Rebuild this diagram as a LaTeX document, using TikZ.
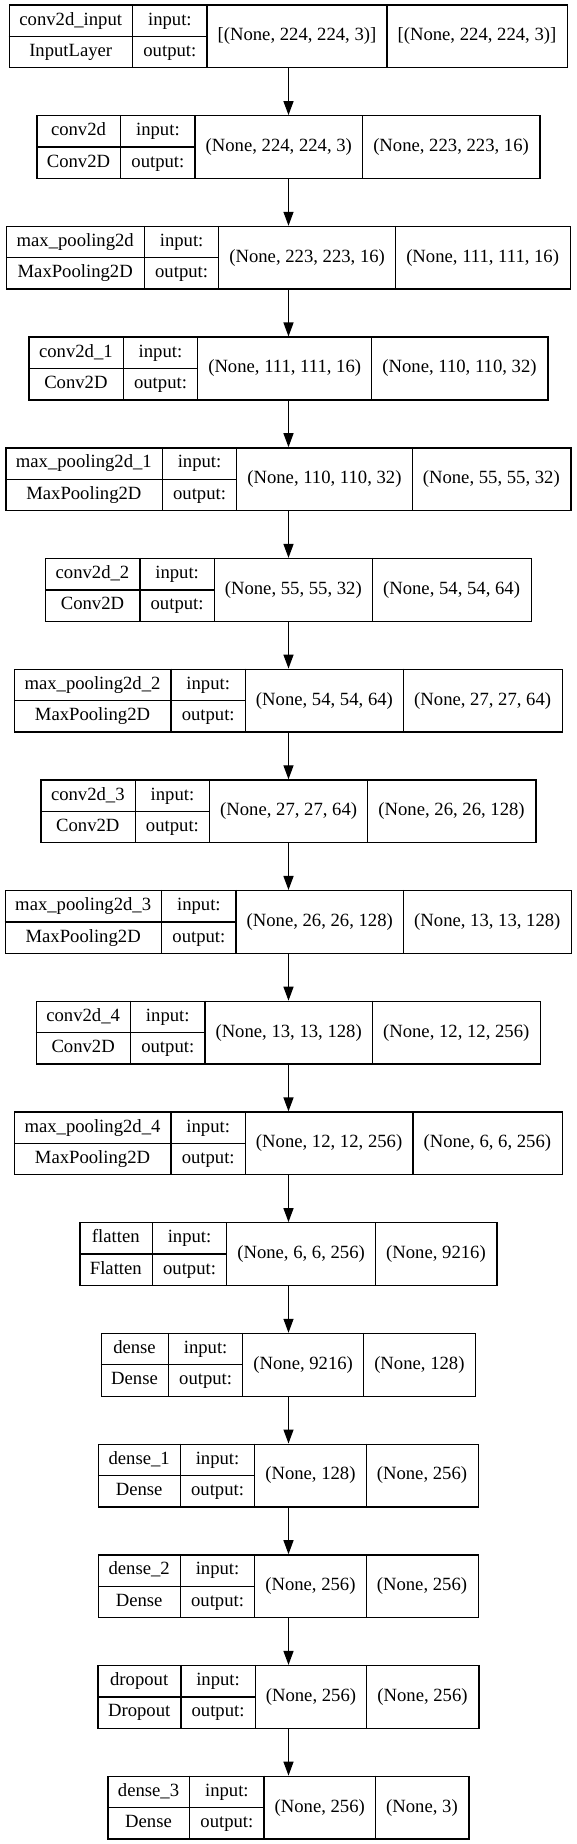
\documentclass[tikz,border=0pt]{standalone}
\usepackage{fontspec}
\setmainfont{Liberation Serif}
\usetikzlibrary{arrows.meta}
\newcommand\kerFont{\fontsize{18.67pt}{22pt}\selectfont}
\newlength\kerWa \newlength\kerWb \newlength\kerWc \newlength\kerWd
\newlength\kerWt \newlength\kerTmp \newlength\kerXb \newlength\kerXc
\newcommand\kerMeasure[4]{%
  \pgfinterruptpicture
  \setbox0\hbox{\normalfont\kerFont #1}\global\kerWa=\wd0
  \setbox0\hbox{\normalfont\kerFont #2}\ifdim\wd0>\kerWa \global\kerWa=\wd0 \fi
  \global\advance\kerWa by 21.33pt
  \setbox0\hbox{\normalfont\kerFont output:}\global\kerWb=\wd0
  \global\advance\kerWb by 21.33pt
  \setbox0\hbox{\normalfont\kerFont #3}\global\kerWc=\wd0
  \global\advance\kerWc by 21.33pt
  \setbox0\hbox{\normalfont\kerFont #4}\global\kerWd=\wd0
  \global\advance\kerWd by 21.33pt
  \endpgfinterruptpicture
  \kerWt=\kerWa \advance\kerWt by \kerWb \advance\kerWt by \kerWc \advance\kerWt by \kerWd
  \kerXb=\kerWa \advance\kerXb by \kerWb
  \kerXc=\kerXb \advance\kerXc by \kerWc
}
\newcommand\kerasbox[6]{%
  \kerMeasure{#3}{#4}{#5}{#6}%
  \node[layerbox, minimum width=\kerWt] (#1) at (288.5pt,#2) {};
  \draw[cellline] ([xshift=\kerWa]#1.north west) -- ([xshift=\kerWa]#1.south west)
     ([xshift=\kerXb]#1.north west) -- ([xshift=\kerXb]#1.south west)
     ([xshift=\kerXc]#1.north west) -- ([xshift=\kerXc]#1.south west)
     (#1.west) -- ([xshift=\kerXb]#1.west);
  \node[ktext] (#1-name) at ([xshift={0.5*\kerWa}, yshift=15.675pt]#1.west) {#3};
  \node[ktext] (#1-class) at ([xshift={0.5*\kerWa}, yshift=-15.675pt]#1.west) {#4};
  \node[ktext] (#1-inl) at ([xshift={\kerWa+0.5*\kerWb}, yshift=15.675pt]#1.west) {input:};
  \node[ktext] (#1-outl) at ([xshift={\kerWa+0.5*\kerWb}, yshift=-15.675pt]#1.west) {output:};
  \node[ktext] (#1-in) at ([xshift={\kerXb+0.5*\kerWc}]#1.west) {#5};
  \node[ktext] (#1-out) at ([xshift={\kerXc+0.5*\kerWd}]#1.west) {#6};
}
\begin{document}
\begin{tikzpicture}[
  layerbox/.style={draw=black, line width=1.33pt, minimum height=62.7pt, inner sep=0pt},
  cellline/.style={draw=black, line width=1.33pt},
  ktext/.style={font=\kerFont, inner sep=0pt, text height=12.9pt, text depth=4.1pt, anchor=center},
  karrow/.style={draw=black, line width=1.33pt, -{Triangle[length={14pt 0}, width={10pt 0}]}}
]
\fill[white] (0pt,0pt) rectangle (577pt,-1844pt);
\useasboundingbox (0pt,0pt) rectangle (577pt,-1844pt);
\kerasbox{L0}{-36.4pt}{conv2d\_input}{InputLayer}{[(None, 224, 224, 3)]}{[(None, 224, 224, 3)]}
\kerasbox{L1}{-147.1pt}{conv2d}{Conv2D}{(None, 224, 224, 3)}{(None, 223, 223, 16)}
\kerasbox{L2}{-257.8pt}{max\_pooling2d}{MaxPooling2D}{(None, 223, 223, 16)}{(None, 111, 111, 16)}
\kerasbox{L3}{-368.5pt}{conv2d\_1}{Conv2D}{(None, 111, 111, 16)}{(None, 110, 110, 32)}
\kerasbox{L4}{-479.2pt}{max\_pooling2d\_1}{MaxPooling2D}{(None, 110, 110, 32)}{(None, 55, 55, 32)}
\kerasbox{L5}{-589.9pt}{conv2d\_2}{Conv2D}{(None, 55, 55, 32)}{(None, 54, 54, 64)}
\kerasbox{L6}{-700.6pt}{max\_pooling2d\_2}{MaxPooling2D}{(None, 54, 54, 64)}{(None, 27, 27, 64)}
\kerasbox{L7}{-811.3pt}{conv2d\_3}{Conv2D}{(None, 27, 27, 64)}{(None, 26, 26, 128)}
\kerasbox{L8}{-922.0pt}{max\_pooling2d\_3}{MaxPooling2D}{(None, 26, 26, 128)}{(None, 13, 13, 128)}
\kerasbox{L9}{-1032.7pt}{conv2d\_4}{Conv2D}{(None, 13, 13, 128)}{(None, 12, 12, 256)}
\kerasbox{L10}{-1143.4pt}{max\_pooling2d\_4}{MaxPooling2D}{(None, 12, 12, 256)}{(None, 6, 6, 256)}
\kerasbox{L11}{-1254.1pt}{flatten}{Flatten}{(None, 6, 6, 256)}{(None, 9216)}
\kerasbox{L12}{-1364.8pt}{dense}{Dense}{(None, 9216)}{(None, 128)}
\kerasbox{L13}{-1475.5pt}{dense\_1}{Dense}{(None, 128)}{(None, 256)}
\kerasbox{L14}{-1586.2pt}{dense\_2}{Dense}{(None, 256)}{(None, 256)}
\kerasbox{L15}{-1696.9pt}{dropout}{Dropout}{(None, 256)}{(None, 256)}
\kerasbox{L16}{-1807.6pt}{dense\_3}{Dense}{(None, 256)}{(None, 3)}
\foreach \a/\b in {L0/L1,L1/L2,L2/L3,L3/L4,L4/L5,L5/L6,L6/L7,L7/L8,L8/L9,L9/L10,L10/L11,L11/L12,L12/L13,L13/L14,L14/L15,L15/L16}
  \draw[karrow] (\a.south) -- (\b.north);
\end{tikzpicture}
\end{document}
